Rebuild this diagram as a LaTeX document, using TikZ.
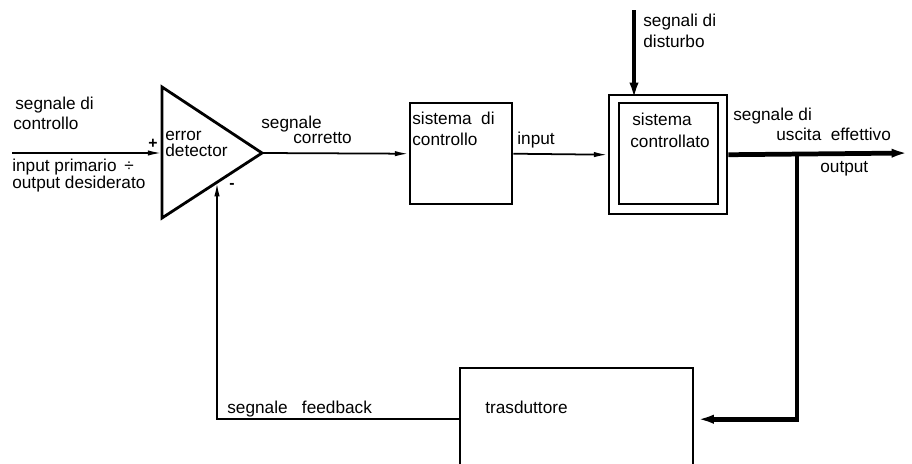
\documentclass[tikz,border=0pt]{standalone}
\usepackage{fontspec}
\setmainfont{Liberation Sans}
\usetikzlibrary{arrows.meta}
\usetikzlibrary{positioning}
\usetikzlibrary{calc}
\tikzstyle{block}=[draw,line width=1.4pt,inner sep=0pt,anchor=north west]
\tikzstyle{lbl}=[anchor=base west,inner sep=0pt,font=\fontsize{9.8}{11}\selectfont]
\tikzstyle{edge} = [draw,line width=1pt,-{Latex[length=8pt,width=3pt]}]
\tikzstyle{heavyedge} = [draw,line width=2.7pt,-{Latex[length=11pt,width=5pt]}]

\begin{document}
\begin{tikzpicture}[x=0.02cm,y=-0.02cm]
    \useasboundingbox (0,0) rectangle (912,463);
    \clip (0,0) rectangle (912,463);

    % error detector (triangle)
    \draw[line width=1.6pt,line join=miter] (162,87) coordinate (ed1) -- (262,153) coordinate (edtip)
        -- (162,218) coordinate (ed3) -- cycle;
    \coordinate (edin) at (162,153);
    \coordinate (edfb) at ($(edtip)!0.45!(ed3)$);

    % the blocks
    \node[block,minimum width=2.04cm,minimum height=2.02cm] (ctrl) at (409,102) {};
    \node[block,minimum width=2.36cm,minimum height=2.38cm] (plantout) at (608,94) {};
    \node[block,minimum width=1.98cm,minimum height=2.02cm] (plant) at (618,102) {};
    \node[block,minimum width=4.66cm,minimum height=2.04cm] (trasd) at (459,367) {};

    % free ends
    \coordinate (ref) at (12,153);
    \coordinate (dist) at (634,10);
    \coordinate (out) at (911,153);
    \coordinate (br) at (797,153);

    % texts
    \foreach \pos/\name/\txt in {{(15,109)/t1/segnale di}, {(13,129)/t2/controllo},
        {(12,171)/t3/input primario \,÷}, {(12,188)/t4/output desiderato},
        {(165,140)/t5/error}, {(165,156)/t6/detector},
        {(261,128)/t7/segnale}, {(293,143)/t8/corretto},
        {(412,124)/t9/sistema\ \ di}, {(412,145)/t10/controllo},
        {(517,144)/t11/input},
        {(643,27)/t12/segnali di}, {(643,47)/t13/disturbo},
        {(632,125)/t14/sistema}, {(630,147)/t15/controllato},
        {(733,120)/t16/segnale di}, {(776,140)/t17/uscita\ \ effettivo}, {(820,172)/t18/output},
        {(227,413)/t19/segnale\ \ \ feedback}, {(485,413)/t20/trasduttore}}
        \node[lbl] (\name) at \pos {\txt};
    \node[font=\small\bfseries,inner sep=0pt] (plus) at (153,144) {+};
    \node[font=\small\bfseries,inner sep=0pt] (minus) at (232,186) {-};

    % connections
    \path[edge] (ref) -- (edin);
    \path[edge] (edtip) -- (ctrl.west);
    \path[edge] (ctrl.east) -- (plantout.west);
    \path[heavyedge] (dist) -- (dist |- plant.north);
    \path[heavyedge] (plantout.east) -- (out);
    \path[heavyedge] (br) |- (trasd.east);
    \path[edge] (trasd.west) -| (edfb);

\end{tikzpicture}
\end{document}
